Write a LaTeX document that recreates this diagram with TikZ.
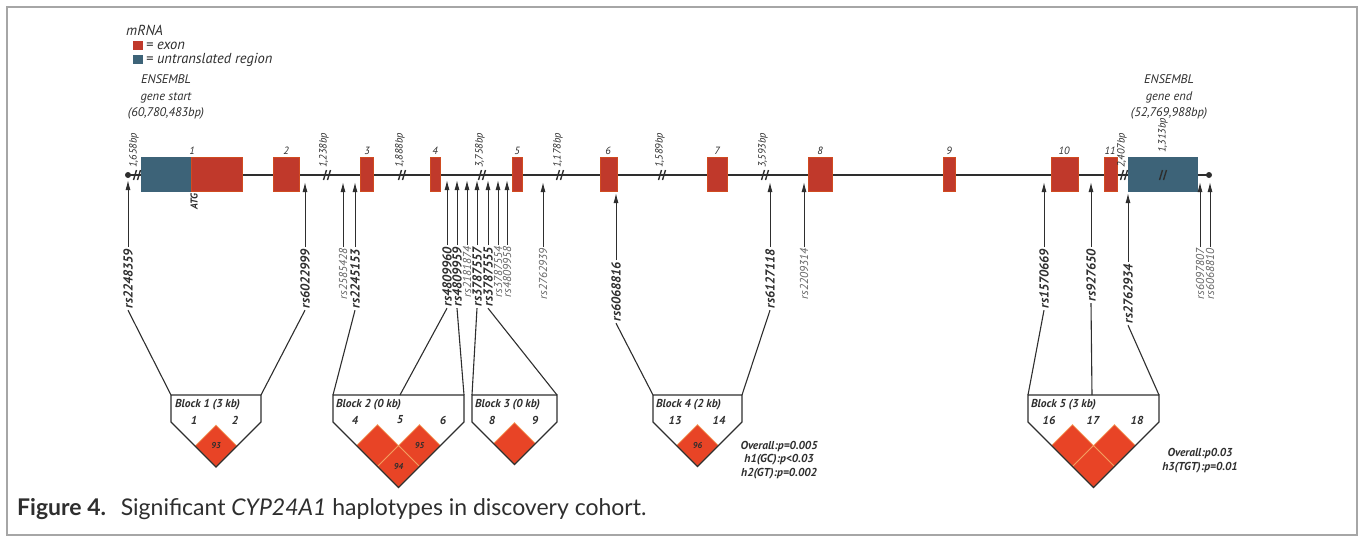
\documentclass[tikz,border=0pt]{standalone}
\usepackage{fontspec}
\setmainfont{PT Sans}
\newfontfamily\captionfont{Lato}
\usetikzlibrary{arrows.meta, decorations.markings, shapes.geometric}

\definecolor{ExonRed}{HTML}{C0392B}
\definecolor{UtrBlue}{HTML}{3D6378}
\definecolor{LdRed}{HTML}{E84426}
\definecolor{LdEdge}{HTML}{F4A262}
\definecolor{Ink}{HTML}{2E2E2E}

\tikzset{
    exon/.style={fill=ExonRed, draw=ExonRed!75!orange, line width=0.6pt},
    utr/.style={fill=UtrBlue, draw=UtrBlue, line width=0.6pt},
    snp arrow/.style={-{Latex[length=10pt,width=5pt]}, draw=Ink, line width=1pt},
    link/.style={draw=Ink, line width=1.1pt},
    snp strong/.style={rotate=90, anchor=east, inner sep=0pt, outer sep=2pt,
        text=Ink, font=\bfseries\itshape\fontsize{13}{13}\selectfont},
    snp weak/.style={snp strong, text=Ink!75, font=\itshape\fontsize{11.5}{12}\selectfont},
    gap label/.style={rotate=90, anchor=west, inner sep=0pt, text=Ink,
        font=\itshape\fontsize{10.5}{10.5}\selectfont},
    exon num/.style={inner sep=0pt, text=Ink, font=\itshape\fontsize{10.5}{10.5}\selectfont},
    block/.style={draw=Ink, line width=1.2pt, line join=miter},
    block text/.style={inner sep=0pt, text=Ink, font=\bfseries\itshape\fontsize{11.5}{11.5}\selectfont},
    legend text/.style={anchor=west, inner sep=0pt, text=Ink, font=\itshape\fontsize{14.5}{14.5}\selectfont},
    ld cell/.style={shape=diamond, aspect=1, minimum width=42pt, minimum height=42pt,
        inner sep=0pt, fill=LdRed, draw=LdEdge, line width=0.8pt, text=Ink,
        font=\bfseries\itshape\fontsize{8.5}{8.5}\selectfont},
    mark cut/.style={
        decoration={markings, mark=at position 0.5 with {
                \draw[Ink, line width=1.4pt] (-3.5pt,-5pt) -- (-0.5pt,5pt);
                \draw[Ink, line width=1.4pt] (0.5pt,-5pt) -- (3.5pt,5pt);
        }}, postaction={decorate}
    }
}

\begin{document}
\begin{tikzpicture}[x=1pt, y=-1pt]

    \useasboundingbox (0,0) rectangle (1361,536);
    \draw[gray!70, line width=1.2pt] (7,7) rectangle (1357,535);

    % Leyenda
    \node[legend text] (mrna) at (126,30) {mRNA};
    \fill[ExonRed] (133,41) rectangle (143,50);
    \node[legend text] (kexon) at (146,45.5) {= exon};
    \fill[UtrBlue] (133,55) rectangle (143,64);
    \node[legend text] (kutr) at (146,59.5) {= untranslated region};

    \node[align=center, inner sep=0pt, text=Ink, font=\itshape\fontsize{12.5}{16.5}\selectfont] (gstart) at (166,97)
        {ENSEMBL\\gene start\\(60,780,483bp)};
    \node[align=center, inner sep=0pt, text=Ink, font=\itshape\fontsize{12.5}{16.5}\selectfont] (gend) at (1169,97)
        {ENSEMBL\\gene end\\(52,769,988bp)};

    % Gen
    \coordinate (gs) at (128,175);
    \coordinate (ge) at (1209,175);
    \draw[Ink, line width=1.6pt] (gs) -- (ge);
    \fill[Ink] (gs) circle (3pt);
    \fill[Ink] (ge) circle (3pt);

    \draw[utr] (141,157) rectangle (191,191);
    \draw[exon] (191,157) rectangle (242,191);
    \draw[exon] (273,157) rectangle (299,191);
    \draw[exon] (360,157) rectangle (373,191);
    \draw[exon] (430,157) rectangle (440,191);
    \draw[exon] (512,157) rectangle (522,191);
    \draw[exon] (600,157) rectangle (617,191);
    \draw[exon] (707,157) rectangle (727,191);
    \draw[exon] (808,157) rectangle (832,191);
    \draw[exon] (943,157) rectangle (955,191);
    \draw[exon] (1051,157) rectangle (1078,191);
    \draw[exon] (1104,157) rectangle (1117,191);
    \draw[utr] (1128,157) rectangle (1197,191);

    \node[exon num] (e1) at (192,151) {1};
    \node[exon num] (e2) at (286,151) {2};
    \node[exon num] (e3) at (367,151) {3};
    \node[exon num] (e4) at (435,151) {4};
    \node[exon num] (e5) at (517,151) {5};
    \node[exon num] (e6) at (608,151) {6};
    \node[exon num] (e7) at (717,151) {7};
    \node[exon num] (e8) at (820,151) {8};
    \node[exon num] (e9) at (949,151) {9};
    \node[exon num] (e10) at (1064,151) {10};
    \node[exon num] (e11) at (1110,151) {11};

    \node[rotate=90, anchor=east, inner sep=0pt, text=Ink, font=\bfseries\itshape\fontsize{10}{10}\selectfont] (atg) at (194,193) {ATG};

    % Cortes de intrones
    \path[mark cut] (134,175) -- (140,175);
    \path[mark cut] (324,175) -- (330,175);
    \path[mark cut] (399,175) -- (405,175);
    \path[mark cut] (479,175) -- (485,175);
    \path[mark cut] (557,175) -- (563,175);
    \path[mark cut] (659,175) -- (665,175);
    \path[mark cut] (762,175) -- (768,175);
    \path[mark cut] (1121,175) -- (1127,175);
    \path[mark cut] (1160,175) -- (1166,175);

    \node[gap label] (g1) at (134,168) {1,658bp};
    \node[gap label] (g2) at (324,168) {1,238bp};
    \node[gap label] (g3) at (400,168) {1,888bp};
    \node[gap label] (g4) at (480,168) {3,758bp};
    \node[gap label] (g5) at (558,168) {1,178bp};
    \node[gap label] (g6) at (660,168) {1,589bp};
    \node[gap label] (g7) at (763,168) {3,593bp};
    \node[gap label] (g8) at (1122,168) {2,407bp};
    \node[gap label] (g9) at (1163,153) {1,313bp};

    % SNPs
    \node[snp strong] (s1) at (128,247) {rs2248359};
    \node[snp strong] (s2) at (305,247) {rs6022999};
    \node[snp weak] (s3) at (343,247) {rs2585428};
    \node[snp strong] (s4) at (355,247) {rs2245153};
    \node[snp strong] (s5) at (447,245) {rs4809960};
    \node[snp strong] (s6) at (457,245) {rs4809959};
    \node[snp weak] (s7) at (467,245) {rs2181874};
    \node[snp strong] (s8) at (477,245) {rs3787557};
    \node[snp strong] (s9) at (488,245) {rs3787555};
    \node[snp weak] (s10) at (498,245) {rs3787554};
    \node[snp weak] (s11) at (507,245) {rs4809958};
    \node[snp weak] (s12) at (543,247) {rs2762939};
    \node[snp strong] (s13) at (616,260) {rs6068816};
    \node[snp strong] (s14) at (770,247) {rs6127118};
    \node[snp weak] (s15) at (804,247) {rs2209314};
    \node[snp strong] (s16) at (1044,247) {rs1570669};
    \node[snp strong] (s17) at (1091,247) {rs927650};
    \node[snp strong] (s18) at (1128,262) {rs2762934};
    \node[snp weak] (s19) at (1200,247) {rs6097807};
    \node[snp weak] (s20) at (1210,247) {rs6068810};

    \coordinate (t1) at (128,180);
    \coordinate (t2) at (305,182);
    \coordinate (t3) at (343,182);
    \coordinate (t4) at (355,182);
    \coordinate (t5) at (447,180);
    \coordinate (t6) at (457,180);
    \coordinate (t7) at (467,180);
    \coordinate (t8) at (477,180);
    \coordinate (t9) at (488,180);
    \coordinate (t10) at (498,180);
    \coordinate (t11) at (507,180);
    \coordinate (t12) at (543,182);
    \coordinate (t13) at (616,193);
    \coordinate (t14) at (770,182);
    \coordinate (t15) at (804,182);
    \coordinate (t16) at (1044,182);
    \coordinate (t17) at (1091,182);
    \coordinate (t18) at (1128,193);
    \coordinate (t19) at (1200,182);
    \coordinate (t20) at (1210,182);

    \draw[snp arrow] (s1.east) -- (t1);
    \draw[snp arrow] (s2.east) -- (t2);
    \draw[snp arrow] (s3.east) -- (t3);
    \draw[snp arrow] (s4.east) -- (t4);
    \draw[snp arrow] (s5.east) -- (t5);
    \draw[snp arrow] (s6.east) -- (t6);
    \draw[snp arrow] (s7.east) -- (t7);
    \draw[snp arrow] (s8.east) -- (t8);
    \draw[snp arrow] (s9.east) -- (t9);
    \draw[snp arrow] (s10.east) -- (t10);
    \draw[snp arrow] (s11.east) -- (t11);
    \draw[snp arrow] (s12.east) -- (t12);
    \draw[snp arrow] (s13.east) -- (t13);
    \draw[snp arrow] (s14.east) -- (t14);
    \draw[snp arrow] (s15.east) -- (t15);
    \draw[snp arrow] (s16.east) -- (t16);
    \draw[snp arrow] (s17.east) -- (t17);
    \draw[snp arrow] (s18.east) -- (t18);
    \draw[snp arrow] (s19.east) -- (t19);
    \draw[snp arrow] (s20.east) -- (t20);

    % Bloques de haplotipos
    \coordinate (b1l) at (171,395);
    \coordinate (b1r) at (261,395);
    \coordinate (b2l) at (333,395);
    \coordinate (b2m) at (400,395);
    \coordinate (b2r) at (464,395);
    \coordinate (b3l) at (472,395);
    \coordinate (b3r) at (557,395);
    \coordinate (b4l) at (653,395);
    \coordinate (b4r) at (742,395);
    \coordinate (b5l) at (1028,395);
    \coordinate (b5m) at (1092,395);
    \coordinate (b5r) at (1159,395);

    \node[ld cell] (c1) at (216,446) {93};
    \node[ld cell] (c2) at (377.5,445.5) {};
    \node[ld cell] (c3) at (419.5,445.5) {95};
    \node[ld cell] (c4) at (398.5,466.5) {94};
    \node[ld cell] (c5) at (514.5,443.5) {};
    \node[ld cell] (c6) at (697.5,445.5) {96};
    \node[ld cell] (c7) at (1072.5,445.5) {};
    \node[ld cell] (c8) at (1114.5,445.5) {};
    \node[ld cell] (c9) at (1093.5,466.5) {};

    \draw[block] (b1l) -- (b1r) -- ++(0,27) -- (216,467) -- (171,422) -- cycle;
    \draw[block] (b2l) -- (b2r) -- ++(0,27) -- (398.5,487.5) -- (333,422) -- cycle;
    \draw[block] (b3l) -- (b3r) -- ++(0,27) -- (514.5,464.5) -- (472,422) -- cycle;
    \draw[block] (b4l) -- (b4r) -- ++(0,27) -- (697.5,466.5) -- (653,422) -- cycle;
    \draw[block] (b5l) -- (b5r) -- ++(0,27) -- (1093.5,487.5) -- (1028,422) -- cycle;

    \draw[link] (s1.west) -- (b1l);
    \draw[link] (s2.west) -- (b1r);
    \draw[link] (s4.west) -- (b2l);
    \draw[link] (s5.west) -- (b2m);
    \draw[link] (s6.west) -- (b2r);
    \draw[link] (s8.west) -- (b3l);
    \draw[link] (s9.west) -- (b3r);
    \draw[link] (s13.west) -- (b4l);
    \draw[link] (s14.west) -- (b4r);
    \draw[link] (s16.west) -- (b5l);
    \draw[link] (s17.west) -- (b5m);
    \draw[link] (s18.west) -- (b5r);

    \node[block text, anchor=west] (k1) at (175,405) {Block 1 (3 kb)};
    \node[block text] (n1) at (194,420) {1};
    \node[block text] (n2) at (235,420) {2};
    \node[block text, anchor=west] (k2) at (336,405) {Block 2 (0 kb)};
    \node[block text] (n4) at (355,420) {4};
    \node[block text] (n5) at (400,420) {5};
    \node[block text] (n6) at (443,420) {6};
    \node[block text, anchor=west] (k3) at (475,405) {Block 3 (0 kb)};
    \node[block text] (n8) at (492,420) {8};
    \node[block text] (n9) at (535,420) {9};
    \node[block text, anchor=west] (k4) at (656,405) {Block 4 (2 kb)};
    \node[block text] (n13) at (675,420) {13};
    \node[block text] (n14) at (719,420) {14};
    \node[block text, anchor=west] (k5) at (1031,405) {Block 5 (3 kb)};
    \node[block text] (n16) at (1049,420) {16};
    \node[block text] (n17) at (1093,420) {17};
    \node[block text] (n18) at (1137,420) {18};

    \node[align=center, inner sep=0pt, text=Ink, font=\bfseries\itshape\fontsize{11.5}{13.5}\selectfont] (p4) at (779,460)
        {Overall:p=0.005\\h1(GC):p<0.03\\h2(GT):p=0.002};
    \node[align=center, inner sep=0pt, text=Ink, font=\bfseries\itshape\fontsize{11.5}{14}\selectfont] (p5) at (1200,461)
        {Overall:p0.03\\h3(TGT):p=0.01};

    % Leyenda de la figura
    \node[anchor=west, inner sep=0pt, text=Ink, font=\captionfont\fontsize{23}{23}\selectfont] (cap) at (17,509)
        {\textbf{Figure 4.}\hspace{0.3em} Significant \textit{CYP24A1} haplotypes in discovery cohort.};

\end{tikzpicture}
\end{document}
